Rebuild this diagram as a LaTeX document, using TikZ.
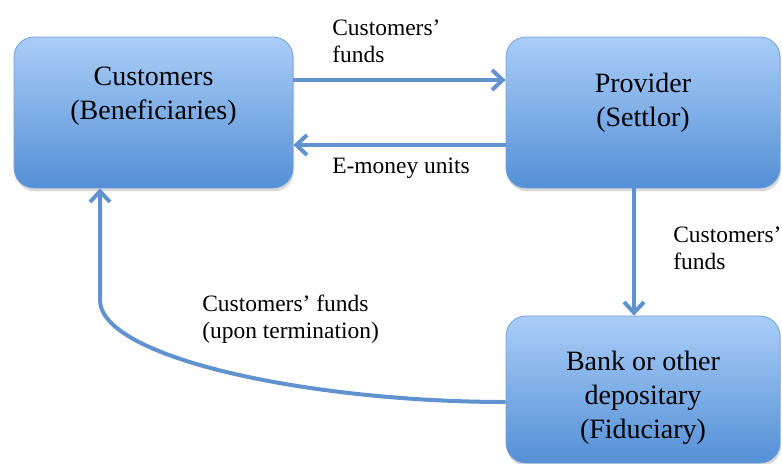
\documentclass[tikz,border=0pt]{standalone}
\usepackage{fontspec}
\setmainfont{Liberation Serif}
\usetikzlibrary{arrows.meta,shadows,calc}

\definecolor{boxtop}{RGB}{170,205,248}
\definecolor{boxbot}{RGB}{84,144,214}
\definecolor{boxedge}{RGB}{112,160,220}
\definecolor{flowblue}{RGB}{96,146,208}

\begin{document}
\begin{tikzpicture}[x=0.75pt,y=0.75pt,yscale=-1,xscale=1,
  party/.style={rectangle, rounded corners=15pt, draw=boxedge, line width=0.6pt, top color=boxtop, bottom color=boxbot, drop shadow={opacity=0.3, shadow xshift=0.8pt, shadow yshift=-2.5pt}},
  partytext/.style={align=center, inner sep=0pt, font=\fontsize{21}{25.5}\selectfont},
  flow/.style={draw=flowblue, line width=3pt, -{Straight Barb[length=8pt,width=15pt]}},
  flowtext/.style={align=left, anchor=west, inner sep=0pt, font=\fontsize{17.6}{20.3}\selectfont}]
\useasboundingbox (0,0) rectangle (782,464);

% Boxes
\node[party, minimum width=209.25pt, minimum height=113.25pt] (cust) at (153.5,112.5) {};
\node[partytext] (custtext) at (153.5,96) {Customers\\(Beneficiaries)};
\node[party, minimum width=205.5pt, minimum height=113.25pt] (prov) at (643,112.5) {};
\node[partytext] (provtext) at (643,102.5) {Provider\\(Settlor)};
\node[party, minimum width=205.5pt, minimum height=110.25pt] (bank) at (643,389.5) {};
\node[partytext] (banktext) at (643,398) {Bank or other\\depositary\\(Fiduciary)};

% Flows
\draw[flow] ($(cust.east)+(0,-32.5)$) -- ($(prov.west)+(0,-32.5)$);
\draw[flow] ($(prov.west)+(0,32.5)$) -- ($(cust.east)+(0,32.5)$);
\draw[flow] ($(prov.south)+(-9,0)$) -- ($(bank.north)+(-9,0)$);
\coordinate (bend) at (100,300);
\draw[flow] ($(bank.west)+(0,12.5)$) .. controls (310,402) and (100,358) .. (bend) -- ($(cust.south)+(-53.5,0)$);

% Labels
\node[flowtext] (fundslbl) at (332,41.5) {Customers’\\funds};
\node[flowtext] (emoneylbl) at (332,168) {E-money units};
\node[flowtext] (depolbl) at (673,248.5) {Customers’\\funds};
\node[flowtext] (termlbl) at (202,319) {Customers’ funds\\(upon termination)};

\end{tikzpicture}
\end{document}
